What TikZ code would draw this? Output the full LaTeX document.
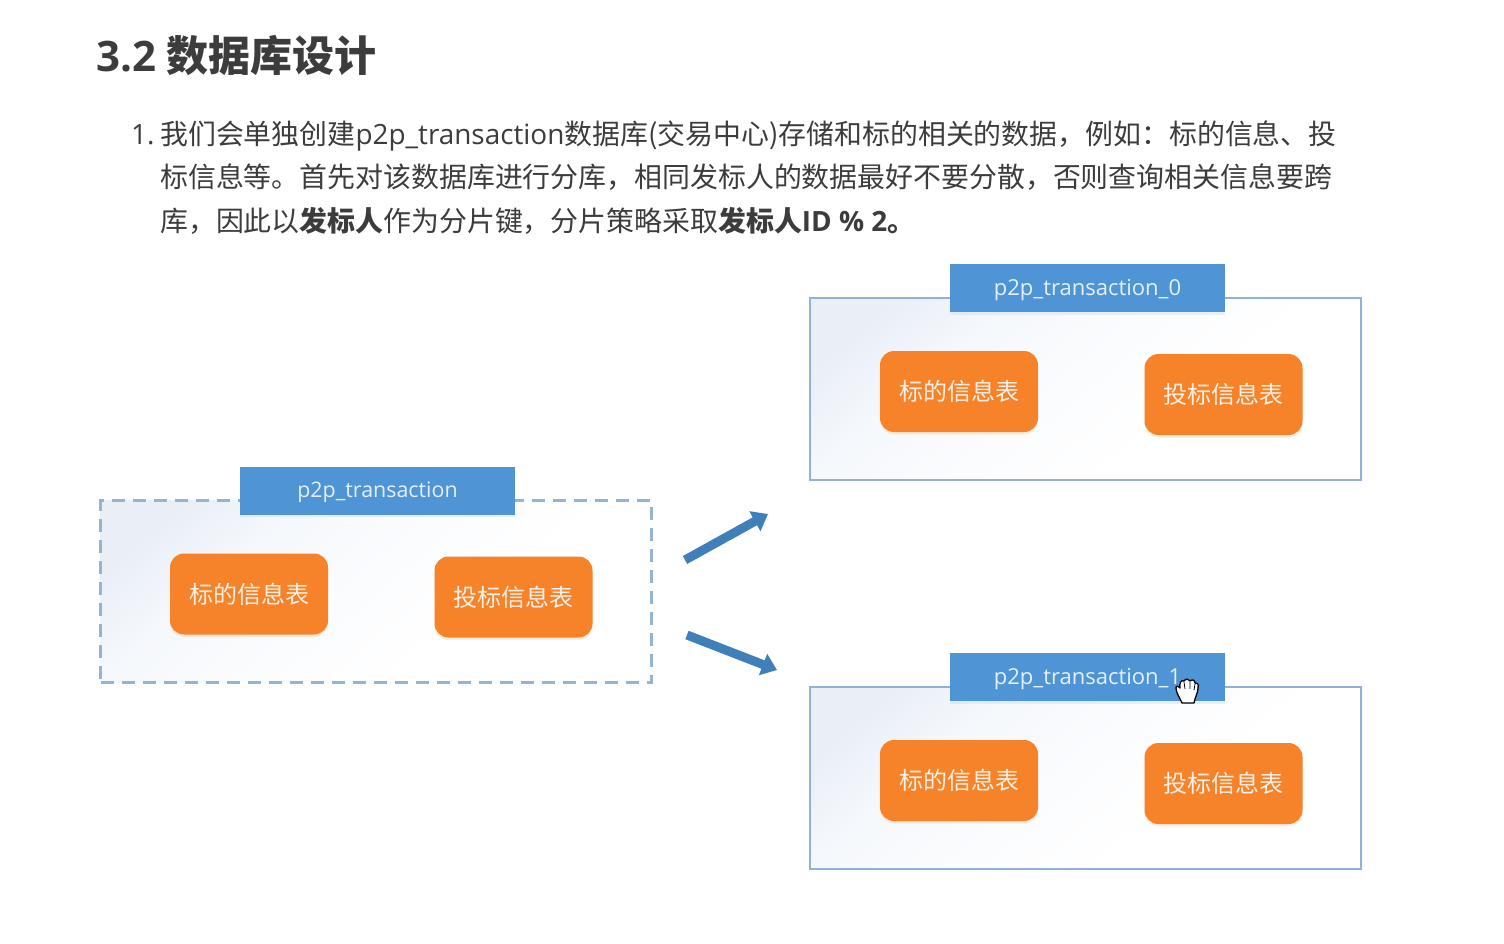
\documentclass[tikz,border=0pt]{standalone}
\usepackage{fontspec}
\setmainfont{Open Sans}
\newfontfamily\cjk{Noto Sans CJK SC}
\newcommand{\C}[1]{{\cjk #1}}
\usetikzlibrary{arrows.meta,shadows}
\definecolor{inkc}{HTML}{3C3C3C}
\definecolor{tabc}{HTML}{4F95D6}
\definecolor{orgc}{HTML}{F6832A}
\definecolor{edgec}{HTML}{8FB2DA}
\definecolor{dashc}{HTML}{94B4D2}
\definecolor{arrc}{HTML}{3F7FBA}
\definecolor{paleb}{HTML}{E9EEF7}
\definecolor{midb}{HTML}{F5F8FC}
\definecolor{lowb}{HTML}{FBFCFE}
\pgfdeclareverticalshading{panelshade}{100bp}{color(0bp)=(white); color(38bp)=(white); color(52bp)=(lowb); color(66bp)=(midb); color(78bp)=(paleb); color(100bp)=(paleb)}
\tikzset{
  x=1pt,y=-1pt,
  titletext/.style={anchor=base west,inner sep=0pt,text=inkc,font=\fontsize{42}{42}\selectfont\bfseries},
  bodytext/.style={anchor=base west,inner sep=0pt,text=inkc,font=\fontsize{27.9}{28}\selectfont},
  panel/.style={minimum width=551pt,minimum height=182pt,inner sep=0pt,shading=panelshade,shading angle=40},
  solidpanel/.style={panel,draw=edgec,line width=2pt},
  dashpanel/.style={panel,draw=dashc,line width=2.5pt,dash pattern=on 13pt off 8pt},
  tabbox/.style={fill=tabc,minimum width=275pt,minimum height=48pt,inner sep=0pt,text depth=1pt,text=white!85!tabc,font=\fontsize{22}{22}\selectfont,
    general shadow={fill=tabc!40,shadow xshift=0pt,shadow yshift=-2.5pt,opacity=.3}},
  tablebox/.style={fill=orgc,rounded corners=14pt,minimum width=158pt,minimum height=81pt,inner sep=0pt,text=white!88!orgc,font=\cjk\fontsize{24}{24}\selectfont,
    general shadow={fill=orgc!50,shadow xshift=0pt,shadow yshift=-2.5pt,opacity=.28}},
  bigarrow/.style={draw=arrc,line width=9pt,-{Triangle[length=15pt,width=22pt]}},
}
\begin{document}
\begin{tikzpicture}
\useasboundingbox (0,0) rectangle (1504,944);
\fill[white] (0,0) rectangle (1504,944);
% heading
\node[titletext] (title) at (96,72) {3.2\hspace{10.5pt}{\cjk 数据库设计}};
\node[bodytext] (num) at (131,145) {1.};
\node[bodytext] (l1) at (160,145) {\C{我们会单独创建}p2p\_transaction\C{数据库(交易中心)存储和标的相关的数据，例如：标的信息、投}};
\node[bodytext] (l2) at (160,188) {\C{标信息等。首先对该数据库进行分库，相同发标人的数据最好不要分散，否则查询相关信息要跨}};
\node[bodytext] (l3) at (160,231) {\C{库，因此以}{\cjk\bfseries 发标人}\C{作为分片键，分片策略采取}{\cjk\bfseries 发标人}\textbf{ID \% 2}{\cjk\bfseries 。}};
% left group
\node[dashpanel] (src) at (376,591.5) {};
\node[tabbox,font=\fontsize{21.4}{22}\selectfont] (srctab) at (377.5,490.5) {p2p\_transaction};
\node[tablebox] (srca) at (249,594) {标的信息表};
\node[tablebox] (srcb) at (513.5,597) {投标信息表};
% upper right group
\node[solidpanel] (top) at (1085.5,389) {};
\node[tabbox] (toptab) at (1087.5,288) {p2p\_transaction\_0};
\node[tablebox] (topa) at (959,391.5) {标的信息表};
\node[tablebox] (topb) at (1223.5,394.5) {投标信息表};
% lower right group
\node[solidpanel] (bot) at (1085.5,778) {};
\node[tabbox] (bottab) at (1087.5,677) {p2p\_transaction\_1};
\node[tablebox] (bota) at (959,780.5) {标的信息表};
\node[tablebox] (botb) at (1223.5,783.5) {投标信息表};
% arrows
\coordinate (a1s) at (685,560);
\coordinate (a1e) at (768,514);
\coordinate (a2s) at (687,635);
\coordinate (a2e) at (777,670);
\draw[bigarrow] (a1s) -- (a1e);
\draw[bigarrow] (a2s) -- (a2e);
% hand cursor
\draw[fill=white,draw=black,line width=1.3pt,line join=round]
  (1182,703) .. controls (1180,698) and (1176,693) .. (1176,688)
  .. controls (1176,685) and (1179,686) .. (1180,688)
  .. controls (1179,684) and (1181,679) .. (1184,681)
  .. controls (1186,678) and (1189,679) .. (1190,681)
  .. controls (1192,679) and (1195,680) .. (1195,683)
  .. controls (1197,682) and (1199,684) .. (1198,688)
  .. controls (1198,693) and (1195,697) .. (1194,703) -- cycle;
\draw[black,line width=.8pt] (1184,682) -- (1185,689) (1190,682) -- (1190,689) (1195,684) -- (1194,690);
\end{tikzpicture}
\end{document}
